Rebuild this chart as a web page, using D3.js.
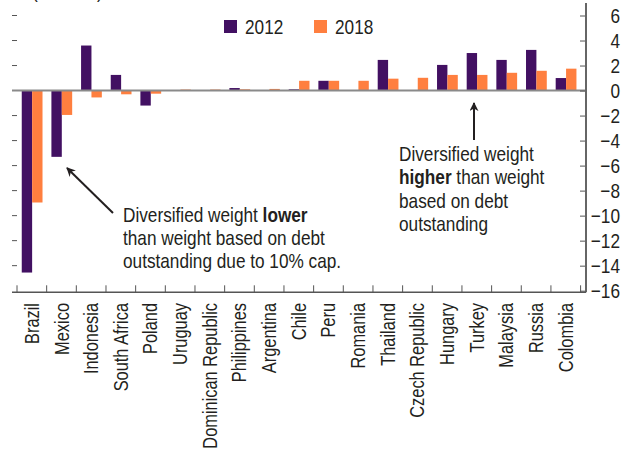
<!DOCTYPE html>
<html>
<head>
<meta charset="utf-8">
<script src="https://cdnjs.cloudflare.com/ajax/libs/d3/7.8.5/d3.min.js"></script>
<style>
body { margin: 0; background: #fff; }
svg text { font-family: "Liberation Sans", Arial, sans-serif; fill: #231f20; }
</style>
</head>
<body>
<div id="chart"></div>
<script>
// data
var countries = ['Brazil','Mexico','Indonesia','South Africa','Poland','Uruguay','Dominican Republic','Philippines','Argentina','Chile','Peru','Romania','Thailand','Czech Republic','Hungary','Turkey','Malaysia','Russia','Colombia'];
var years = ['2012','2018'];
var values2012 = [-14.55,-5.3,3.6,1.25,-1.2,0,0,0.2,0,0.1,0.78,0,2.45,0,2.05,3.0,2.45,3.25,1.0];
var values2018 = [-8.95,-1.95,-0.55,-0.3,-0.25,0.08,0.08,0.1,0.13,0.78,0.78,0.78,0.95,1.02,1.25,1.25,1.42,1.58,1.75];
var yTicks = [6,4,2,0,-2,-4,-6,-8,-10,-12,-14,-16];
var colors = {'2012':'#421062','2018':'#ff7f3f'};

var width = 630;
var height = 453;
var plotLeft = 17, plotRight = 580.6, axisX = 586, plotTop = 3, plotBottom = 292.3;
var squeeze = 0.82; // narrow type: Liberation Sans squeezed sideways
var fs = "21px";

var svg = d3.select("#chart")
    .append("svg")
        .attr("width", width)
        .attr("height", height);

function place(sel, x, y) {
    return sel.attr("transform", "translate(" + x + "," + y + ") scale(" + squeeze + ",1)")
        .style("font-size", fs);
}

var x0 = d3.scaleBand()
    .domain(countries)
    .range([plotLeft, plotRight]);

var x1 = d3.scaleBand()
    .domain(years)
    .range([x0.bandwidth()*0.16, x0.bandwidth()*0.86]);

var y = d3.scaleLinear()
    .domain([-16.13, 7])
    .range([plotBottom, plotTop]);

var rows = countries.map(function(c,i){
    return {country: c, values: [{year:'2012', value: values2012[i]}, {year:'2018', value: values2018[i]}]};
});

// unit label, cut off at the top
place(svg.append("text"), 32, -2).text("(Percent)");

// bars
var groups = svg.selectAll(".group")
    .data(rows)
    .enter()
    .append("g")
    .attr("transform", function(d){ return "translate(" + x0(d.country) + ",0)"; });

groups.selectAll("rect")
    .data(function(d){ return d.values.filter(function(v){ return v.value != 0; }); })
    .enter()
    .append("rect")
    .attr("x", function(d){ return x1(d.year); })
    .attr("width", x1.bandwidth())
    .attr("y", function(d){ return y(Math.max(0, d.value)); })
    .attr("height", function(d){ return Math.abs(y(d.value) - y(0)); })
    .style("fill", function(d){ return colors[d.year]; });

// zero line
svg.append("line")
    .attr("x1", 12).attr("x2", axisX)
    .attr("y1", y(0)).attr("y2", y(0))
    .style("stroke", "#8a8a8a")
    .style("stroke-width", 2);

// left ticks, no line
svg.selectAll(".ltick")
    .data(yTicks.filter(function(d){ return d != 0 && d != -16; }))
    .enter()
    .append("line")
    .attr("x1", 12).attr("x2", 17)
    .attr("y1", function(d){ return y(d); })
    .attr("y2", function(d){ return y(d); })
    .style("stroke", "#555");

// right axis
var yAxis = svg.append("g")
    .attr("transform", "translate(" + axisX + ",0)")
    .call(d3.axisLeft(y).tickValues(yTicks).tickSize(6).tickFormat(function(d){ return d < 0 ? "\u2212" + Math.abs(d) : d; }));
yAxis.select(".domain").remove();
yAxis.selectAll("line").style("stroke", "#555");
yAxis.selectAll("text")
    .attr("x", 34 / squeeze)
    .attr("transform", "scale(" + squeeze + ",1)")
    .attr("text-anchor", "end")
    .style("font-size", fs)
    .style("font-family", null);
yAxis.attr("font-family", null);
yAxis.append("line")
    .attr("y1", plotTop).attr("y2", plotBottom)
    .style("stroke", "#666")
    .style("stroke-width", 2);

// bottom axis
svg.append("line")
    .attr("x1", 12).attr("x2", axisX)
    .attr("y1", plotBottom).attr("y2", plotBottom)
    .style("stroke", "#555")
    .style("stroke-width", 1.5);

var boundaries = countries.map(function(c){ return x0(c); }).concat([plotRight]);
svg.selectAll(".xtick")
    .data(boundaries)
    .enter()
    .append("line")
    .attr("x1", function(d){ return d; })
    .attr("x2", function(d){ return d; })
    .attr("y1", plotBottom).attr("y2", plotBottom - 7)
    .style("stroke", "#555");

svg.selectAll(".xlabel")
    .data(countries)
    .enter()
    .append("text")
    .attr("transform", function(d){ return "translate(" + (x0(d) + x0.bandwidth()/2) + ",303)rotate(-90)scale(" + squeeze + ",1)"; })
    .attr("dy", "0.35em")
    .attr("text-anchor", "end")
    .style("font-size", "20px")
    .text(function(d){ return d; });

// legend
var legend = svg.selectAll(".legend")
    .data(years)
    .enter()
    .append("g")
    .attr("transform", function(d,i){ return "translate(" + (224 + i*90) + ",20)"; });
legend.append("rect")
    .attr("width", 13).attr("height", 13)
    .style("fill", function(d){ return colors[d]; });
legend.append("text")
    .attr("transform", "translate(21,13.5) scale(" + squeeze + ",1)")
    .style("font-size", fs)
    .text(function(d){ return d; });

// annotations
svg.append("defs").append("marker")
    .attr("id", "head")
    .attr("viewBox", "0 0 10 10")
    .attr("refX", 9).attr("refY", 5)
    .attr("markerWidth", 9).attr("markerHeight", 9)
    .attr("markerUnits", "userSpaceOnUse")
    .attr("orient", "auto")
    .append("path")
    .attr("d", "M0,0L10,5L0,10L3,5Z")
    .style("fill", "#231f20");

svg.append("line")
    .attr("x1", 113).attr("y1", 213)
    .attr("x2", 67).attr("y2", 168)
    .style("stroke", "#231f20").style("stroke-width", 2)
    .attr("marker-end", "url(#head)");

svg.append("line")
    .attr("x1", 474).attr("y1", 140)
    .attr("x2", 474).attr("y2", 103)
    .style("stroke", "#231f20").style("stroke-width", 2)
    .attr("marker-end", "url(#head)");

var note1 = place(svg.append("text"), 123, 222);
note1.append("tspan").text("Diversified weight ");
note1.append("tspan").style("font-weight", "bold").text("lower");
place(svg.append("text"), 123, 245).text("than weight based on debt");
place(svg.append("text"), 123, 268).text("outstanding due to 10% cap.");

place(svg.append("text"), 399, 161).text("Diversified weight");
var note2 = place(svg.append("text"), 399, 184);
note2.append("tspan").style("font-weight", "bold").text("higher");
note2.append("tspan").text(" than weight");
place(svg.append("text"), 399, 208).text("based on debt");
place(svg.append("text"), 399, 231).text("outstanding");
</script>
</body>
</html>
